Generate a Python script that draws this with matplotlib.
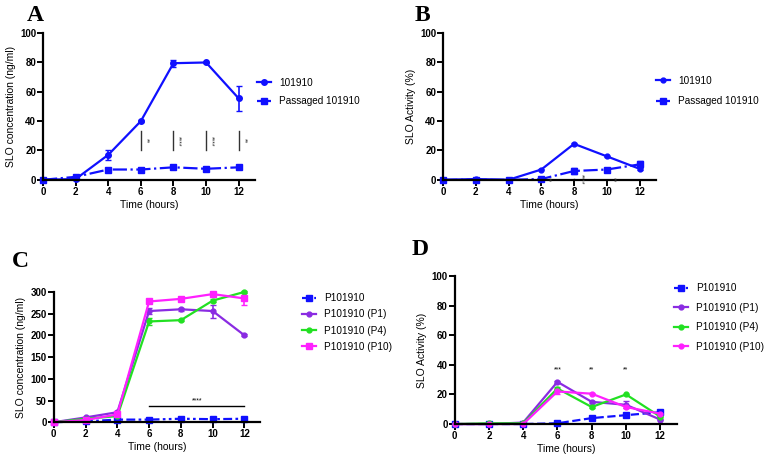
import numpy as np
import matplotlib.pyplot as plt

plt.rcParams['font.family'] = ['Liberation Sans', 'DejaVu Sans']

hours = [0, 2, 4, 6, 8, 10, 12]

# Panel A: SLO concentration (ng/ml)
a_wt = [0, 0.5, 17, 40, 79.5, 80, 55.5]
a_wt_err = [0, 0.5, 3.5, 0.5, 2.5, 0.5, 8.5]
a_pas = [0, 2, 7, 7, 8.5, 7.5, 8.5]
a_pas_err = [0, 0.5, 0.5, 0.5, 0.5, 0.5, 0.5]
a_sig_x = [6, 8, 10, 12]
a_sig_lab = ['**', '****', '****', '**']

# Panel B: SLO activity (%)
b_wt = [0, 0.5, 0, 7, 24.5, 16, 7.5]
b_wt_err = [0, 0.3, 0.3, 0.5, 0.5, 0.5, 1]
b_pas = [0, 0, 0, 0.5, 6, 7, 10.5]
b_pas_err = [0, 0.2, 0.2, 0.5, 2, 0.8, 2.5]
b_sig_x = [6, 8, 10]
b_sig_lab = ['**', '****', '**']

# Panel C: SLO concentration (ng/ml), passaged strains
c_p = [0, 2, 6, 6, 8, 7, 8]
c_p1 = [0, 11, 23, 256, 260, 256, 200]
c_p1_err = [0, 1, 2, 6, 3, 15, 2]
c_p4 = [0, 8, 14, 232, 235, 280, 300]
c_p4_err = [0, 1, 1, 8, 2, 3, 2]
c_p10 = [0, 5, 18, 278, 284, 295, 285]
c_p10_err = [0, 1, 1, 3, 5, 4, 15]

# Panel D: SLO activity (%), passaged strains
d_p = [0, 0, 0, 0.5, 4, 6, 8]
d_p1 = [0, 0, 1, 28.5, 15, 13, 3]
d_p1_err = [0, 0, 0.3, 0.8, 0.5, 2.5, 0.5]
d_p4 = [0, 0.5, 0.5, 24, 11.5, 20, 5]
d_p4_err = [0, 0, 0, 1, 0.5, 0.5, 0.5]
d_p10 = [0, 0, 0, 22, 20.5, 11.5, 7]
d_p10_err = [0, 0, 0, 2, 0.5, 1, 0.5]
d_sig_x = [6, 8, 10]
d_sig_lab = ['***', '**', '**']

blue = '#1010ff'
purple = '#8a2be2'
green = '#22e022'
magenta = '#ff20ff'


def style(ax, ymax, ystep, ylabel):
    ax.set_xlim(0, 13)
    ax.set_ylim(0, ymax)
    ax.set_xticks(range(0, 13, 2))
    ax.set_yticks(np.arange(0, ymax + 1, ystep))
    ax.spines['top'].set_visible(False)
    ax.spines['right'].set_visible(False)
    for s in ['left', 'bottom']:
        ax.spines[s].set_linewidth(1.6)
    ax.tick_params(width=1.4, length=4, labelsize=7, pad=1)
    for lab in ax.get_xticklabels() + ax.get_yticklabels():
        lab.set_fontweight('bold')
    ax.set_xlabel('Time (hours)', fontsize=7.5, labelpad=2)
    ax.set_ylabel(ylabel, fontsize=7.5, labelpad=3)


def series(ax, y, err, color, ls, marker, ms=4):
    c = ax.errorbar(hours, y, yerr=err, color=color, ls=ls, lw=1.6, marker=marker,
                    ms=ms, capsize=2.5, elinewidth=1.2, clip_on=False)
    return c[0]


def legend(ax, handles, labels, x, y, spacing):
    ax.legend(handles, labels, loc='upper left', bbox_to_anchor=(x, y), frameon=False,
              fontsize=7.2, handlelength=1.4, borderaxespad=0, borderpad=0,
              labelspacing=spacing, handletextpad=0.8)


fig = plt.figure(figsize=(7.68, 4.54), dpi=100)

# A
axA = fig.add_axes([0.056, 0.604, 0.276, 0.323])
h = [series(axA, a_wt, a_wt_err, blue, '-', 'o'),
     series(axA, a_pas, a_pas_err, blue, '-.', 's', ms=4.5)]
for x, lab in zip(a_sig_x, a_sig_lab):
    axA.plot([x, x], [20, 33], color='#333333', lw=1)
    axA.text(x + 0.3, 26.5, lab, rotation=270, fontsize=5, ha='center', va='center', color='#333333')
style(axA, 100, 20, 'SLO concentration (ng/ml)')
legend(axA, h, ['101910', 'Passaged 101910'], 1.01, 0.695, 0.85)

# B
axB = fig.add_axes([0.577, 0.604, 0.277, 0.323])
h = [series(axB, b_wt, b_wt_err, blue, '-', 'o', ms=3.5),
     series(axB, b_pas, b_pas_err, blue, '-.', 's', ms=4.5)]
for x, lab, y0, y1 in zip(b_sig_x, b_sig_lab, b_pas, b_wt):
    lo, hi = sorted([y0, y1])
    axB.plot([x, x], [lo, hi], color='#333333', lw=1)
    axB.text(x + 0.4, (lo + hi) / 2, lab, rotation=270, fontsize=5, ha='center', va='center', color='#333333')
style(axB, 100, 20, 'SLO Activity (%)')
legend(axB, h, ['101910', 'Passaged 101910'], 1.0, 0.71, 1.05)

c_labels = ['P101910', 'P101910 (P1)', 'P101910 (P4)', 'P101910 (P10)']

# C
axC = fig.add_axes([0.070, 0.070, 0.269, 0.287])
h = [series(axC, c_p, None, blue, (0, (4, 1.5, 1.2, 1.5, 1.2, 1.5)), 's', ms=4.5),
     series(axC, c_p1, c_p1_err, purple, '-', 'o', ms=3.5),
     series(axC, c_p4, c_p4_err, green, '-', 'o', ms=3.5),
     series(axC, c_p10, c_p10_err, magenta, '-', 's', ms=4)]
axC.plot([6, 12], [37, 37], color='black', lw=1)
axC.text(9, 40, '****', fontsize=5, ha='center', va='bottom')
style(axC, 300, 50, 'SLO concentration (ng/ml)')
legend(axC, h, c_labels, 1.2, 0.99, 0.62)

# D
axD = fig.add_axes([0.592, 0.066, 0.290, 0.326])
h = [series(axD, d_p, None, blue, '--', 's', ms=4),
     series(axD, d_p1, d_p1_err, purple, '-', 'o', ms=3.5),
     series(axD, d_p4, d_p4_err, green, '-', 'o', ms=3.5),
     series(axD, d_p10, d_p10_err, magenta, '-', 'o', ms=3.5)]
for x, lab in zip(d_sig_x, d_sig_lab):
    axD.text(x, 34, lab, fontsize=5, ha='center', va='bottom')
style(axD, 100, 20, 'SLO Activity (%)')
legend(axD, h, c_labels, 0.985, 0.95, 0.95)

for lab, x, y in [('A', 0.035, 0.965), ('B', 0.54, 0.965), ('C', 0.016, 0.425), ('D', 0.536, 0.45)]:
    fig.text(x, y, lab, fontsize=17, fontweight='bold', family='Liberation Serif', va='center')

fig.savefig('out.png', dpi=100)
